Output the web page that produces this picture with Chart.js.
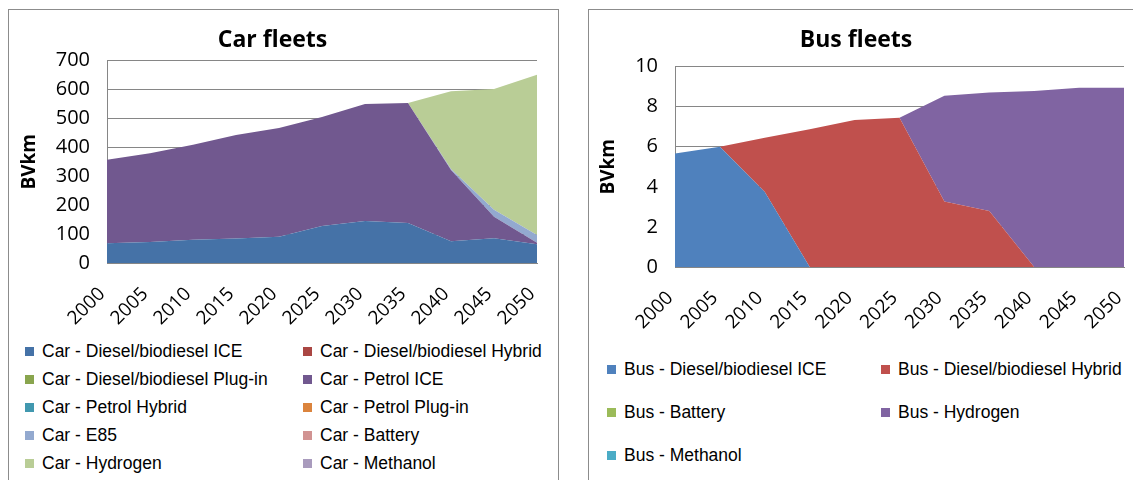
<!DOCTYPE html>
<html>
<head>
<meta charset="utf-8">
<script src="https://cdn.jsdelivr.net/npm/chart.js@4.4.1/dist/chart.umd.min.js"></script>
<style>
  body { margin: 0; width: 1133px; height: 480px; overflow: hidden; background: #fff; position: relative; }
  .panel { position: absolute; top: 9px; height: 500px; border: 1px solid #8c8c8c; box-sizing: border-box; }
  canvas { position: absolute; }
  .item { position: absolute; display: flex; align-items: center; height: 20px; white-space: nowrap;
          font: 17.5px "Liberation Sans", Arial, sans-serif; color: #000; }
  .item .sw { width: 9px; height: 9px; margin-right: 8px; flex: none; }
</style>
</head>
<body>
<div class="panel" style="left:8px;width:551px"></div>
<div class="panel" style="left:588px;width:600px"></div>
<canvas id="car" width="550" height="330" style="left:8px;top:9px"></canvas>
<canvas id="bus" width="554" height="330" style="left:588px;top:9px"></canvas>
<div id="carLegend"></div>
<div id="busLegend"></div>
<script>
const years = ['2000', '2005', '2010', '2015', '2020', '2025', '2030', '2035', '2040', '2045', '2050'];

// car fleets, BVkm
const carDieselIce    = [68, 73, 80, 85, 91, 128, 145, 138, 75, 86, 65];
const carDieselHybrid = [0, 0, 0, 0, 0, 0, 0, 0, 0, 0, 0];
const carDieselPlugin = [0, 0, 0, 0, 0, 0, 0, 0, 0, 0, 0];
const carPetrolIce    = [289, 307, 329, 358, 376, 377, 405, 415, 247, 74, 5];
const carPetrolHybrid = [0, 0, 0, 0, 0, 0, 0, 0, 0, 0, 0];
const carPetrolPlugin = [0, 0, 0, 0, 0, 0, 0, 0, 0, 0, 0];
const carE85          = [0, 0, 0, 0, 0, 0, 0, 0, 3, 24, 27];
const carBattery      = [0, 0, 0, 0, 0, 0, 0, 0, 0, 0, 0];
const carHydrogen     = [0, 0, 0, 0, 0, 0, 0, 0, 269, 418, 554];
const carMethanol     = [0, 0, 0, 0, 0, 0, 0, 0, 0, 0, 0];

// bus fleets, BVkm
const busDieselIce    = [5.66, 6.0, 3.74, 0, 0, 0, 0, 0, 0, 0, 0];
const busDieselHybrid = [0, 0, 2.71, 6.87, 7.34, 7.45, 3.27, 2.8, 0, 0, 0];
const busBattery      = [0, 0, 0, 0, 0, 0, 0, 0, 0, 0, 0];
const busHydrogen     = [0, 0, 0, 0, 0, 0, 5.27, 5.91, 8.78, 8.94, 8.94];
const busMethanol     = [0, 0, 0, 0, 0, 0, 0, 0, 0, 0, 0];

const carSeries = [
  ['Car - Diesel/biodiesel ICE', carDieselIce],
  ['Car - Diesel/biodiesel Hybrid', carDieselHybrid],
  ['Car - Diesel/biodiesel Plug-in', carDieselPlugin],
  ['Car - Petrol ICE', carPetrolIce],
  ['Car - Petrol Hybrid', carPetrolHybrid],
  ['Car - Petrol Plug-in', carPetrolPlugin],
  ['Car - E85', carE85],
  ['Car - Battery', carBattery],
  ['Car - Hydrogen', carHydrogen],
  ['Car - Methanol', carMethanol]
];
const busSeries = [
  ['Bus - Diesel/biodiesel ICE', busDieselIce],
  ['Bus - Diesel/biodiesel Hybrid', busDieselHybrid],
  ['Bus - Battery', busBattery],
  ['Bus - Hydrogen', busHydrogen],
  ['Bus - Methanol', busMethanol]
];

const carColors = ['#4572A7', '#AA4643', '#89A54E', '#71588F', '#4198AF', '#DB843D', '#93A9CF', '#D19392', '#B9CD96', '#A99BBD'];
const busColors = ['#4F81BD', '#C0504D', '#9BBB59', '#8064A2', '#4BACC6'];

const gridGray = '#868686';

function stackedArea(series, colors) {
  return series.map(([label, data], i) => ({
    label: label,
    data: data,
    backgroundColor: colors[i],
    borderColor: colors[i],
    borderWidth: 0,
    pointRadius: 0,
    fill: i === 0 ? 'origin' : '-1'
  }));
}

function makeChart(id, series, colors, cfg) {
  return new Chart(document.getElementById(id), {
    type: 'line',
    data: { labels: years, datasets: stackedArea(series, colors) },
    options: {
      responsive: false,
      animation: false,
      devicePixelRatio: 1,
      layout: { padding: { left: 0, right: cfg.rightPad, top: 0, bottom: 0 } },
      plugins: {
        legend: { display: false },
        tooltip: { enabled: false },
        title: {
          display: true,
          text: cfg.title,
          color: '#000',
          font: { family: 'Open Sans', size: 23, weight: 'bold' },
          padding: { top: 18, bottom: cfg.titleBottom }
        }
      },
      scales: {
        x: {
          grid: { display: false, drawTicks: false },
          border: { color: gridGray },
          ticks: {
            color: '#000',
            font: { family: 'Open Sans', size: 19 },
            minRotation: 45,
            maxRotation: 45,
            autoSkip: false,
            padding: 20,
            labelOffset: -5
          },
          // rotated labels hang to the left, so no extra room on the right
          afterFit: s => { s.height = cfg.xHeight; s.paddingRight = 0; s.paddingLeft = 0; }
        },
        y: {
          stacked: true,
          min: 0,
          max: cfg.max,
          grid: { color: gridGray, drawTicks: false },
          border: { color: gridGray },
          ticks: {
            stepSize: cfg.step,
            color: '#000',
            font: { family: 'Open Sans', size: 20 },
            padding: 17
          },
          title: {
            display: true,
            text: 'BVkm',
            color: '#000',
            font: { family: 'Open Sans', size: 19, weight: 'bold' },
            padding: { top: cfg.yTitlePad, bottom: 0 }
          },
          afterFit: s => { s.width = cfg.yWidth; }
        }
      }
    }
  });
}

const carChart = makeChart('car', carSeries, carColors, {
  title: 'Car fleets', max: 700, step: 100,
  yWidth: 99, rightPad: 21, titleBottom: 6, xHeight: 76, yTitlePad: 10
});
const busChart = makeChart('bus', busSeries, busColors, {
  title: 'Bus fleets', max: 10, step: 2,
  yWidth: 87, rightPad: 18, titleBottom: 12, xHeight: 72, yTitlePad: 9
});

// two-column legend under each chart, built from the chart's datasets
function buildLegend(chart, el, layout) {
  chart.data.datasets.forEach((ds, i) => {
    const col = i % 2, row = Math.floor(i / 2);
    const item = document.createElement('div');
    item.className = 'item';
    item.style.left = layout.cols[col] + 'px';
    item.style.top = (layout.firstRow + row * layout.rowGap - 10) + 'px';
    const sw = document.createElement('span');
    sw.className = 'sw';
    sw.style.background = ds.backgroundColor;
    const tx = document.createElement('span');
    tx.textContent = ds.label;
    item.appendChild(sw);
    item.appendChild(tx);
    el.appendChild(item);
  });
}

buildLegend(carChart, document.getElementById('carLegend'), { cols: [25, 303], firstRow: 351, rowGap: 28 });
buildLegend(busChart, document.getElementById('busLegend'), { cols: [607, 881], firstRow: 369, rowGap: 43 });
</script>
</body>
</html>
